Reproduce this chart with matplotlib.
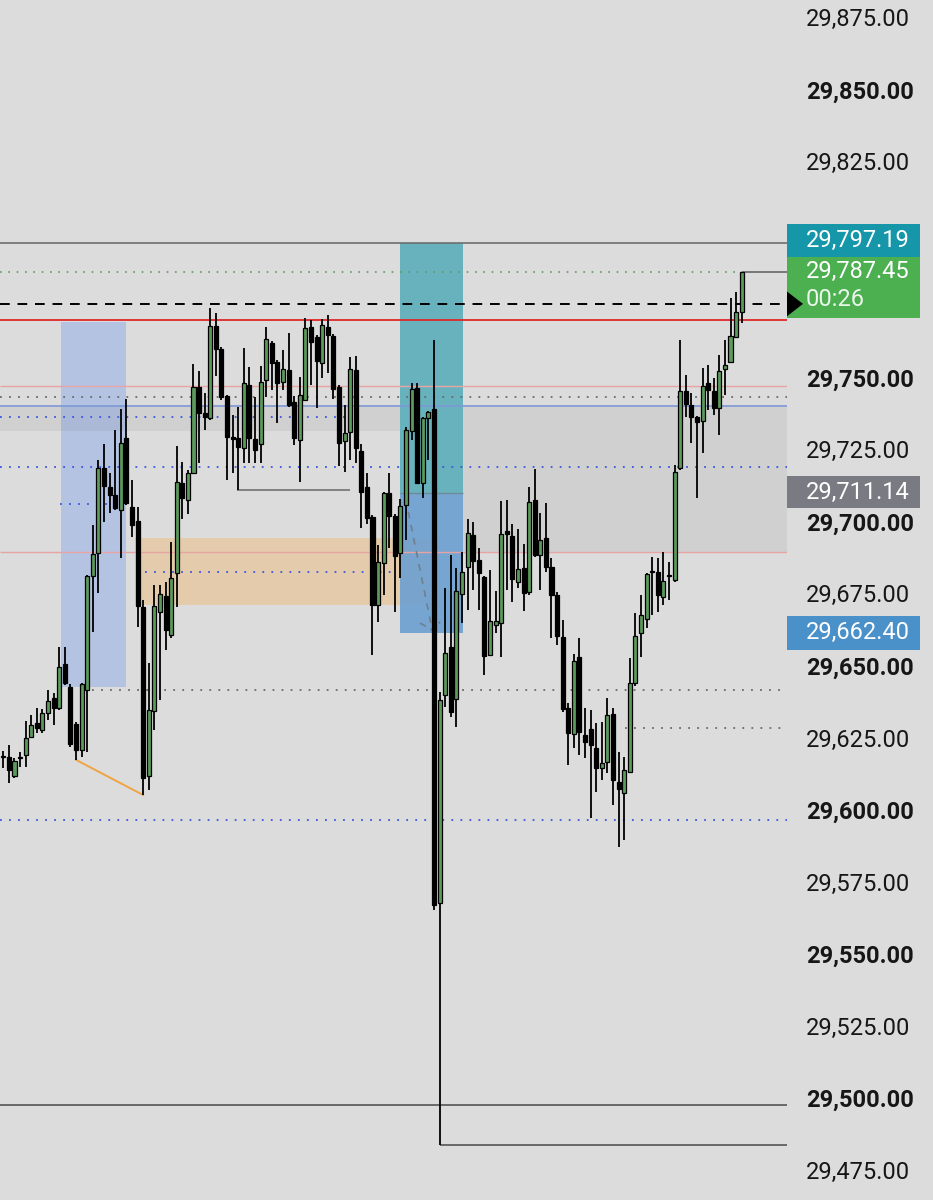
import numpy as np
import matplotlib.pyplot as plt
from matplotlib.patches import Rectangle, Polygon

plt.rcParams['font.family'] = ['Roboto', 'DejaVu Sans']

# candles, oldest first
opens = [29619.1, 29619.1, 29612.5, 29618.8, 29619.8, 29626.0, 29630.9, 29628.5, 29634.4, 29639.6,
         29636.1, 29651.4, 29643.4, 29630.6, 29621.5, 29642.4, 29681.9, 29689.9, 29719.4, 29712.8,
         29710.1, 29704.9, 29729.9, 29705.9, 29701.0, 29671.2, 29612.5, 29635.1, 29669.4, 29675.0,
         29661.5, 29683.0, 29714.2, 29708.3, 29717.7, 29747.6, 29738.5, 29736.8, 29768.8, 29760.8,
         29744.4, 29730.2, 29729.9, 29726.4, 29748.3, 29729.5, 29727.8, 29750.0, 29762.8, 29756.3,
         29749.3, 29753.5, 29742.4, 29729.2, 29743.1, 29768.4, 29764.9, 29755.9, 29768.4, 29765.3,
         29747.6, 29728.8, 29731.9, 29753.5, 29725.3, 29712.8, 29702.4, 29671.9, 29686.5, 29710.8,
         29702.8, 29689.9, 29706.6, 29732.3, 29747.2, 29714.2, 29736.8, 29739.9, 29568.4, 29640.6,
         29657.3, 29639.2, 29675.7, 29685.1, 29696.2, 29687.5, 29681.6, 29654.5, 29664.9, 29665.6,
         29697.6, 29695.8, 29679.9, 29684.7, 29676.4, 29708.3, 29689.2, 29695.1, 29685.1, 29675.3,
         29660.8, 29636.1, 29627.1, 29653.8, 29626.7, 29628.8, 29622.2, 29615.3, 29617.4, 29634.0,
         29610.4, 29606.6, 29613.9, 29644.8, 29662.2, 29667.0, 29683.7, 29683.3, 29674.7, 29681.9,
         29680.6, 29719.4, 29746.2, 29741.3, 29737.2, 29735.8, 29749.0, 29746.2, 29740.3, 29753.8,
         29756.3, 29764.9, 29773.6]
highs = [29621.2, 29623.3, 29618.8, 29620.8, 29631.6, 29633.7, 29636.1, 29635.8, 29642.4, 29641.3,
         29657.3, 29657.3, 29644.4, 29631.3, 29644.8, 29682.3, 29699.7, 29722.2, 29727.8, 29717.7,
         29732.6, 29739.9, 29743.4, 29715.3, 29705.9, 29673.6, 29651.7, 29678.8, 29678.8, 29679.9,
         29693.8, 29727.1, 29721.5, 29718.8, 29755.6, 29753.1, 29745.5, 29775.0, 29773.3, 29761.5,
         29744.8, 29737.8, 29740.6, 29761.1, 29754.5, 29744.1, 29754.9, 29768.4, 29763.5, 29756.9,
         29760.4, 29766.3, 29744.4, 29751.0, 29771.5, 29770.8, 29765.6, 29771.2, 29772.6, 29766.0,
         29748.3, 29741.3, 29758.0, 29758.3, 29727.8, 29717.7, 29703.1, 29692.7, 29711.1, 29717.7,
         29703.5, 29708.7, 29733.7, 29749.0, 29749.0, 29737.2, 29739.2, 29763.9, 29641.7, 29677.8,
         29689.2, 29684.7, 29690.3, 29701.7, 29700.7, 29691.7, 29681.9, 29684.0, 29676.7, 29708.0,
         29708.3, 29700.0, 29698.3, 29693.1, 29712.8, 29719.1, 29703.8, 29707.3, 29688.2, 29676.4,
         29666.7, 29637.8, 29654.9, 29660.4, 29636.1, 29635.4, 29630.9, 29631.3, 29639.6, 29636.1,
         29620.8, 29619.1, 29653.5, 29669.1, 29675.3, 29683.0, 29688.5, 29688.2, 29690.3, 29686.8,
         29720.5, 29763.9, 29751.7, 29745.5, 29737.5, 29754.2, 29755.2, 29750.7, 29758.7, 29763.9,
         29778.5, 29780.5, 29787.5]
lows = [29615.3, 29610.1, 29611.8, 29615.6, 29615.6, 29625.7, 29627.4, 29627.4, 29631.9, 29630.2,
        29635.4, 29644.1, 29622.6, 29618.1, 29619.1, 29620.8, 29662.5, 29676.0, 29700.7, 29703.8,
        29704.9, 29688.2, 29706.6, 29695.5, 29664.2, 29605.9, 29607.6, 29628.5, 29638.9, 29656.3,
        29660.4, 29671.2, 29701.7, 29703.5, 29717.4, 29721.2, 29732.6, 29736.1, 29751.4, 29743.1,
        29715.3, 29717.7, 29711.8, 29721.2, 29721.2, 29721.2, 29721.2, 29744.1, 29746.5, 29735.1,
        29746.5, 29740.6, 29727.4, 29714.6, 29742.7, 29748.3, 29740.3, 29750.7, 29752.4, 29743.4,
        29720.1, 29718.1, 29722.2, 29721.2, 29698.6, 29700.0, 29654.5, 29666.0, 29675.3, 29691.7,
        29669.4, 29681.3, 29694.4, 29729.2, 29713.9, 29709.0, 29722.2, 29566.0, 29484.4, 29636.5,
        29633.0, 29629.5, 29665.6, 29670.1, 29677.1, 29670.1, 29647.6, 29654.2, 29662.2, 29653.8,
        29677.1, 29672.9, 29677.8, 29669.8, 29675.3, 29688.5, 29677.1, 29683.3, 29660.4, 29658.0,
        29634.7, 29616.3, 29622.2, 29619.8, 29618.8, 29597.9, 29606.9, 29611.1, 29613.5, 29602.4,
        29587.8, 29590.3, 29613.5, 29643.8, 29653.8, 29663.9, 29668.4, 29669.4, 29671.9, 29673.6,
        29679.9, 29718.8, 29737.2, 29728.1, 29709.0, 29724.7, 29739.6, 29737.8, 29730.9, 29744.8,
        29756.3, 29764.9, 29769.8]
closes = [29619.4, 29614.6, 29617.7, 29619.1, 29625.7, 29630.2, 29629.2, 29634.4, 29638.5, 29636.1,
          29650.3, 29644.8, 29623.6, 29621.5, 29644.4, 29681.9, 29689.6, 29719.4, 29713.2, 29710.1,
          29705.6, 29728.1, 29707.3, 29699.7, 29671.5, 29611.8, 29635.4, 29671.5, 29675.7, 29663.2,
          29681.3, 29714.6, 29709.0, 29717.7, 29747.6, 29738.5, 29737.2, 29768.8, 29760.8, 29744.1,
          29730.2, 29729.5, 29726.7, 29749.0, 29729.9, 29725.7, 29749.3, 29764.2, 29755.9, 29749.0,
          29753.8, 29741.3, 29729.9, 29744.8, 29768.1, 29763.2, 29756.6, 29769.1, 29765.6, 29746.9,
          29728.1, 29731.6, 29753.8, 29726.4, 29711.1, 29702.1, 29671.9, 29686.8, 29710.8, 29702.8,
          29688.9, 29706.3, 29732.6, 29746.9, 29714.2, 29736.8, 29738.9, 29567.7, 29638.9, 29655.2,
          29634.7, 29676.7, 29683.3, 29696.9, 29687.2, 29683.0, 29654.2, 29666.3, 29666.3, 29696.5,
          29696.5, 29680.9, 29684.4, 29676.0, 29707.6, 29689.2, 29694.4, 29685.1, 29675.3, 29661.1,
          29635.8, 29627.4, 29652.4, 29627.8, 29624.3, 29623.3, 29615.3, 29617.0, 29633.7, 29611.1,
          29608.0, 29614.6, 29644.8, 29661.1, 29668.4, 29682.6, 29683.3, 29675.3, 29680.2, 29682.3,
          29718.1, 29746.2, 29741.7, 29737.2, 29735.4, 29747.9, 29746.5, 29740.3, 29753.1, 29755.2,
          29765.3, 29773.6, 29787.45]

# price scale
tick_prices = [29875, 29850, 29825, 29750, 29725, 29700, 29675, 29650,
               29625, 29600, 29575, 29550, 29525, 29500, 29475]
label_prices = [29797.19, 29787.45, 29711.14, 29662.40]
countdown = '00:26'

BG = '#dcdcdc'
YLIM = (29465.3, 29881.9)
XLIM = (-0.59, 140.1)
N = len(closes)

fig = plt.figure(figsize=(9.33, 12), dpi=100, facecolor=BG)
ax = fig.add_axes([0, 0, 787 / 933, 1], facecolor=BG)
ax.set_xlim(*XLIM)
ax.set_ylim(*YLIM)
ax.axis('off')

# zones
def zone(x0, x1, p0, p1, color, alpha=1.0, z=1):
    ax.add_patch(Rectangle((x0, p0), x1 - x0, p1 - p0, facecolor=color,
                           edgecolor='none', alpha=alpha, zorder=z))

zone(10.3, 21.9, 29643.4, 29770.1, '#b5c3e3')
zone(23.5, 78.1, 29671.9, 29695.1, '#e3cbab')
zone(70.9, 82.2, 29710.8, 29797.5, '#67b2bc', z=1.2)
zone(70.9, 82.2, 29662.2, 29710.8, '#6b9fd0', alpha=0.9, z=1.2)
zone(XLIM[0], XLIM[1], 29732.3, 29740.6, 'black', alpha=0.05, z=1.1)
zone(82.2, XLIM[1], 29690.3, 29732.3, 'black', alpha=0.05, z=1.1)

# horizontal levels
full = dict(xmin=XLIM[0], xmax=XLIM[1], zorder=2)
ax.hlines(29797.5, color='#6e6e6e', lw=1.2, **full)
ax.hlines(29776.4, color='black', lw=1.4, linestyle=(0, (5, 4)), **full)
ax.hlines(29770.8, color='#e02828', lw=1.3, **full)
ax.hlines(29747.9, color='#e8a3a3', lw=1.0, **full)
ax.hlines(29744.1, color='#6a6a6a', lw=1.3, linestyle=(0, (1, 4)), **full)
ax.hlines(29741.0, color='#7c97d6', lw=1.2, **full)
ax.hlines(29719.8, color='#3d55e0', lw=1.3, linestyle=(0, (1, 4)), **full)
ax.hlines(29690.3, color='#e8a3a3', lw=1.0, **full)
ax.hlines(29597.2, color='#3d55e0', lw=1.3, linestyle=(0, (1, 4)), **full)
ax.hlines(29498.3, color='#555555', lw=1.2, **full)

ax.hlines(29787.45, XLIM[0], N - 1, color='#5e9a5e', lw=1.2, linestyle=(0, (1, 4)), zorder=2)
ax.hlines(29787.45, N - 1, XLIM[1], color='#777777', lw=1.4, zorder=2)
ax.hlines(29737.0, XLIM[0], 61.4, color='#3d55e0', lw=1.3, linestyle=(0, (1, 4)), zorder=2)
ax.hlines(29706.9, 10.1, 20.5, color='#3d55e0', lw=1.3, linestyle=(0, (1, 4)), zorder=2)
ax.hlines(29683.3, 25.3, 69.7, color='#3d55e0', lw=1.3, linestyle=(0, (1, 4)), zorder=2)
ax.hlines(29642.4, 15.9, XLIM[1], color='#6a6a6a', lw=1.3, linestyle=(0, (1, 4)), zorder=2)
ax.hlines(29629.2, 111.1, XLIM[1], color='#6a6a6a', lw=1.3, linestyle=(0, (1, 4)), zorder=2)
ax.hlines(29711.8, 41.8, 62.0, color='#7a7a7a', lw=1.3, zorder=2)
ax.hlines(29710.8, 70.9, 82.2, color='#6f8a99', lw=1.0, zorder=2)
ax.hlines(lows[78], 78, XLIM[1], color='#555555', lw=1.2, zorder=2)

# orange swing line between two lows
ax.plot([13, 25], [lows[13], lows[25]], color='#f0a444', lw=1.4, zorder=2)

# dashed projection arrow inside the blue box
ax.plot([72.4, 76.6], [29704.2, 29663.9], color='#6d7f90', lw=1.2,
        linestyle=(0, (4, 4)), zorder=2)
ax.plot([74.5, 76.7, 78.1], [29665.6, 29663.2, 29666.0], color='#6d7f90', lw=1.2,
        linestyle=(0, (4, 3)), zorder=2)

# candles
x = np.arange(N)
o = np.array(opens)
c = np.array(closes)
up = c >= o
ax.vlines(x, lows, highs, color='black', lw=1.3, zorder=3)
ax.bar(x, np.abs(c - o), bottom=np.minimum(o, c), width=0.72,
       color=np.where(up, '#5c9b5c', 'black'), edgecolor='black', lw=0.9, zorder=4)

# right price scale
ax2 = fig.add_axes([787 / 933, 0, 146 / 933, 1], facecolor=BG)
ax2.set_xlim(0, 146)
ax2.set_ylim(*YLIM)
ax2.axis('off')

for p in tick_prices:
    ax2.text(19, p, f'{p:,.2f}', ha='left', va='center', fontsize=17,
             fontweight='bold' if p % 50 == 0 else 'normal', color='#161616')

def tag(p0, p1, color):
    ax2.add_patch(Rectangle((0, p0), 133, p1 - p0, facecolor=color, edgecolor='none', zorder=3))

tag(29792.7, 29804.2, '#1597a9')
tag(29771.5, 29792.7, '#4caf50')
tag(29705.6, 29716.7, '#7a7a82')
tag(29656.3, 29668.1, '#4a90c9')

txt = dict(ha='left', va='center', fontsize=17, color='white', zorder=4)
ax2.text(19, 29798.4, f'{label_prices[0]:,.2f}', **txt)
ax2.text(19, 29787.6, f'{label_prices[1]:,.2f}', **txt)
ax2.text(19, 29777.8, countdown, color='#eaf6ea', **{k: v for k, v in txt.items() if k != 'color'})
ax2.text(19, 29711.1, f'{label_prices[2]:,.2f}', **txt)
ax2.text(19, 29662.2, f'{label_prices[3]:,.2f}', **txt)

ax2.add_patch(Polygon([(0, 29780.7), (16, 29776.4), (0, 29772.1)], closed=True,
                      facecolor='black', edgecolor='none', zorder=5))

fig.savefig('out.png', dpi=100, facecolor=BG)
